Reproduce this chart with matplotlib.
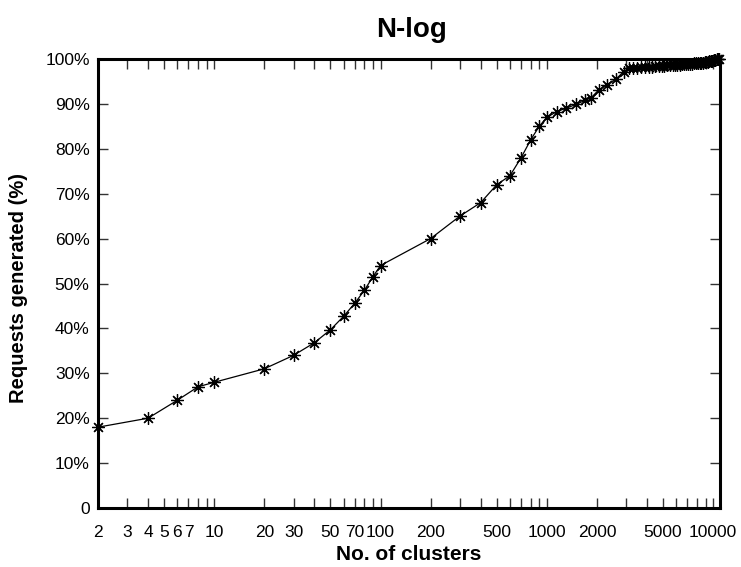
# N-log: share of generated requests vs. number of clusters

import matplotlib
matplotlib.use("Agg")
import matplotlib.pyplot as plt
from matplotlib.ticker import FixedLocator, FixedFormatter, NullLocator

plt.rcParams['font.family'] = ['Liberation Sans', 'DejaVu Sans']

# cluster counts
clusters = [2, 4, 6, 8, 10, 20, 30, 40, 50, 60, 70, 80, 90, 100,
            200, 300, 400, 500, 600, 700, 800, 900, 1000,
            1150, 1300, 1500, 1700, 1850, 2050, 2300, 2600, 2900,
            3100, 3300, 3500, 3700, 3900, 4100, 4300, 4500, 4700, 4900,
            5100, 5300, 5500, 5700, 5900, 6100, 6300, 6500, 6700, 6900,
            7100, 7300, 7500, 7700, 7900, 8100, 8300, 8500, 8700, 8900,
            9100, 9300, 9500, 9700, 9900, 10100, 10300, 10500, 10700, 10900]
# requests generated (%)
requests = [18.0, 20.0, 24.0, 27.0, 28.0, 31.0, 34.0, 36.8, 39.7, 42.7, 45.6, 48.5, 51.5, 54.0,
            60.0, 65.0, 68.0, 72.0, 74.0, 78.0, 82.0, 85.0, 87.0,
            88.3, 89.0, 89.9, 90.8, 91.4, 93.1, 94.3, 95.5, 97.2,
            97.9, 98.0, 98.1, 98.2, 98.2, 98.3, 98.3, 98.4, 98.4, 98.5,
            98.5, 98.6, 98.6, 98.6, 98.7, 98.7, 98.7, 98.8, 98.8, 98.8,
            98.9, 98.9, 98.9, 99.0, 99.0, 99.1, 99.1, 99.2, 99.2, 99.3,
            99.3, 99.4, 99.5, 99.5, 99.6, 99.7, 99.8, 99.9, 99.9, 100.0]

x_ticks = [2, 3, 4, 5, 6, 7, 8, 9, 10, 20, 30, 40, 50, 60, 70, 80, 90, 100,
           200, 300, 400, 500, 600, 700, 800, 900, 1000,
           2000, 3000, 4000, 5000, 6000, 7000, 8000, 9000, 10000]
x_labeled = [2, 3, 4, 5, 6, 7, 10, 20, 30, 50, 70, 100, 200, 500, 1000, 2000, 5000, 10000]
y_ticks = [0, 10, 20, 30, 40, 50, 60, 70, 80, 90, 100]
y_labels = ["0", "10%", "20%", "30%", "40%", "50%", "60%", "70%", "80%", "90%", "100%"]

W, H = 741, 567
fig = plt.figure(figsize=(W / 100, H / 100), dpi=100)
ax = fig.add_axes([98 / W, 1 - 508 / H, (720 - 98) / W, (508 - 59) / H])

ax.plot(clusters, requests, color="black", linewidth=0.9,
        marker=(8, 2, 0), markersize=9, markeredgewidth=0.9,
        markeredgecolor="black", clip_on=False, zorder=3)

ax.set_xscale("log")
ax.set_xlim(2, 11000)
ax.set_ylim(0, 100)

ax.xaxis.set_major_locator(FixedLocator(x_ticks))
ax.xaxis.set_major_formatter(FixedFormatter([str(t) if t in x_labeled else "" for t in x_ticks]))
ax.xaxis.set_minor_locator(NullLocator())
ax.set_yticks(y_ticks)
ax.set_yticklabels(y_labels)

ax.tick_params(axis="both", which="major", direction="in", length=7, width=1,
               top=True, right=True, labelsize=12.5, color="#333333")
ax.tick_params(axis="x", pad=12)
ax.tick_params(axis="y", pad=6)

for sp in ax.spines.values():
    sp.set_linewidth(2.2)

fig.text(409 / W, 1 - 554 / H, "No. of clusters", fontsize=15, fontweight="bold",
         ha="center", va="center")
fig.text(19 / W, 1 - 288 / H, "Requests generated (%)", fontsize=14.5, fontweight="bold",
         ha="center", va="center", rotation=90)
fig.text(412 / W, 1 - 30 / H, "N-log", fontsize=20, fontweight="bold",
         ha="center", va="center")

fig.savefig("out.png", dpi=100)
